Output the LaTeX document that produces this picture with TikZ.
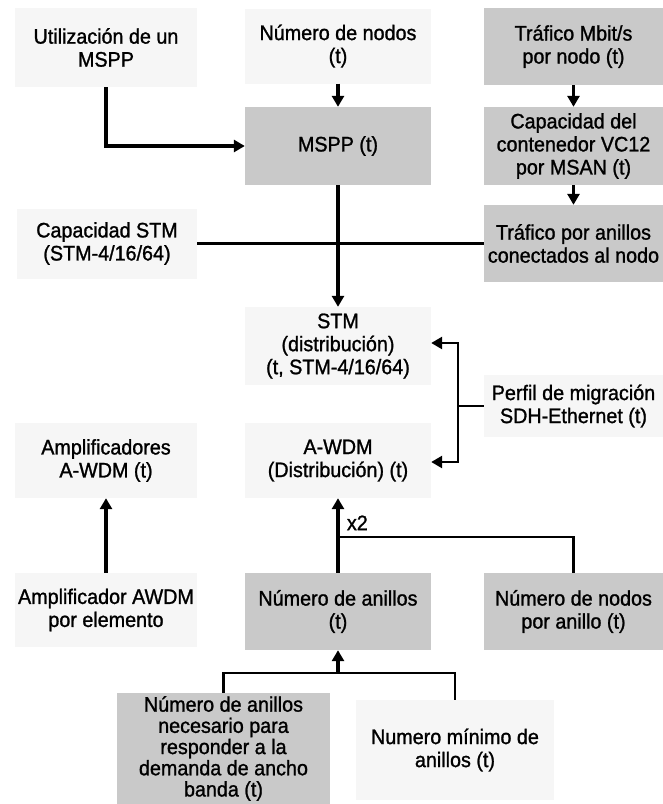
\documentclass[tikz,border=0pt]{standalone}
\usepackage{fontspec}
\setmainfont{Liberation Sans}[FakeStretch=0.94, FakeBold=1.2]
\usepackage{tikz}
\usetikzlibrary{arrows.meta}

\begin{document}
\begin{tikzpicture}[x=1pt, y=-1pt,
    lightbox/.style={fill=gray!7, align=center, inner sep=0pt, font=\fontsize{21}{23}\selectfont},
    darkbox/.style={lightbox, fill=gray!42},
    flow/.style={line width=3.2pt, -{Triangle[width=12pt,length=11pt]}},
    link/.style={line width=2.6pt}]
    \useasboundingbox (0,0) rectangle (663,804);

    % top row
    \node[lightbox, minimum width=182pt, minimum height=79pt] (uso) at (106,47.5) {Utilización de un\\MSPP};
    \node[lightbox, minimum width=186pt, minimum height=75pt] (nnodos) at (338,46) {Número de nodos\\(t)};
    \node[darkbox, minimum width=179pt, minimum height=77pt] (trafico) at (573.5,46.5) {Tráfico Mbit/s\\por nodo (t)};

    \node[darkbox, minimum width=186pt, minimum height=78pt] (mspp) at (338,146) {MSPP (t)};
    \node[darkbox, minimum width=179pt, minimum height=78pt] (capvc) at (573.5,146) {Capacidad del\\contenedor VC12\\por MSAN (t)};

    \node[lightbox, minimum width=180pt, minimum height=70pt] (capstm) at (107,243.5) {Capacidad STM\\(STM-4/16/64)};
    \node[darkbox, minimum width=179pt, minimum height=77pt] (trafan) at (573.5,243.5) {Tráfico por anillos\\conectados al nodo};

    \node[lightbox, minimum width=186pt, minimum height=78pt] (stm) at (338,346) {STM\\(distribución)\\(t, STM-4/16/64)};
    \node[lightbox, minimum width=179pt, minimum height=62pt] (perfil) at (573.5,406) {Perfil de migración\\SDH-Ethernet (t)};

    \node[lightbox, minimum width=182pt, minimum height=75pt] (amplif) at (106,460.5) {Amplificadores\\A-WDM (t)};
    \node[lightbox, minimum width=186pt, minimum height=75pt] (awdm) at (338,460.5) {A-WDM\\(Distribución) (t)};

    \node[lightbox, minimum width=182pt, minimum height=74pt] (amplel) at (106,610) {Amplificador AWDM\\por elemento};
    \node[darkbox, minimum width=186pt, minimum height=77pt] (nanillos) at (338,611.5) {Número de anillos\\(t)};
    \node[darkbox, minimum width=179pt, minimum height=77pt] (nnodanillo) at (573.5,611.5) {Número de nodos\\por anillo (t)};

    \node[darkbox, minimum width=213pt, minimum height=111pt, font=\fontsize{21}{21.2}\selectfont] (nnecesario) at (223.5,748.5) {Número de anillos\\necesario para\\responder a la\\demanda de ancho\\banda (t)};
    \node[lightbox, minimum width=198pt, minimum height=100pt] (nminimo) at (455,750) {Numero mínimo de\\anillos (t)};

    % connectors
    \draw[flow] (uso.south) |- (mspp.west);
    \draw[flow] (nnodos.south) -- (mspp.north);
    \draw[flow] (trafico.south) -- (capvc.north);
    \draw[flow] (capvc.south) -- (trafan.north);
    \draw[flow] (mspp.south) -- (stm.north);
    \draw[link] (capstm.east) -- (capstm.east -| trafan.west);

    \coordinate (pa) at (458,343);
    \coordinate (pb) at (458,462);
    \draw[link] (perfil.west) -- (perfil.west -| pa);
    \draw[link, {Triangle[width=12pt,length=11pt]}-{Triangle[width=12pt,length=11pt]}] (stm.east |- pa) -- (pa) -- (pb) -- (awdm.east |- pb);

    \draw[flow] (amplel.north) -- (amplif.south);
    \draw[flow] (nanillos.north) -- node[pos=0.67, right=4pt, font=\fontsize{21}{23}\selectfont] {x2} (awdm.south);
    \coordinate (nj) at (338,537);
    \draw[link] (nj) -| (nnodanillo.north);

    \coordinate (bj) at (338,673);
    \draw[link] (nnecesario.north) |- (bj) -| (nminimo.north);
    \draw[flow] (bj) -- (nanillos.south);
\end{tikzpicture}
\end{document}
